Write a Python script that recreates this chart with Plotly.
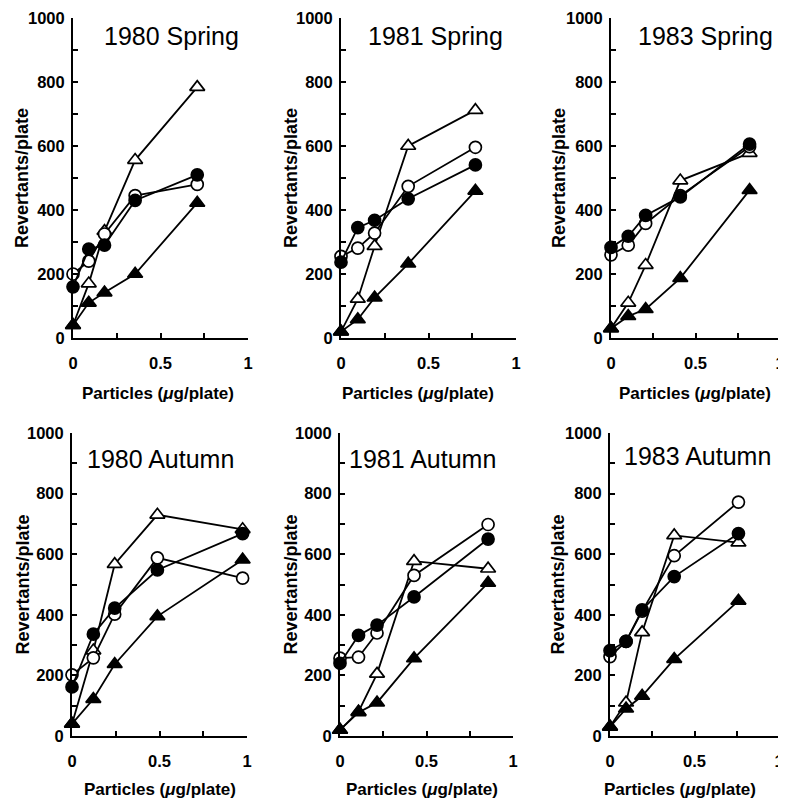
import plotly.graph_objects as go

# The page body adds an 8px margin; lay out in window pixels and compensate.
OFF = 8
WIN_W, WIN_H = 786, 807
W, H = WIN_W - OFF, WIN_H - OFF

panel_titles = ["1980 Spring", "1981 Spring", "1983 Spring",
                "1980 Autumn", "1981 Autumn", "1983 Autumn"]

# doses (ug/plate) per panel
dose_80s = [0, 0.09, 0.18, 0.355, 0.71]
dose_81s = [0, 0.096, 0.192, 0.384, 0.768]
dose_83s = [0, 0.102, 0.205, 0.41, 0.82]
dose_80a = [0, 0.122, 0.244, 0.488, 0.975]
dose_81a = [0, 0.107, 0.214, 0.428, 0.856]
dose_83a = [0, 0.095, 0.19, 0.38, 0.76]

# revertants/plate: open circle, filled circle, open triangle, filled triangle
oc_80s = [200, 240, 325, 445, 480]
fc_80s = [160, 278, 290, 430, 510]
ot_80s = [40, 170, 334, 556, 784]
ft_80s = [40, 110, 142, 200, 422]

oc_81s = [255, 281, 328, 474, 596]
fc_81s = [237, 345, 368, 435, 541]
ot_81s = [20, 122, 287, 600, 712]
ft_81s = [20, 58, 126, 232, 460]

oc_83s = [260, 290, 358, 445, 598]
fc_83s = [283, 318, 383, 441, 606]
ot_83s = [30, 110, 228, 492, 578]
ft_83s = [30, 68, 90, 187, 462]

oc_80a = [202, 258, 402, 588, 521]
fc_80a = [162, 336, 422, 548, 668]
ot_80a = [40, 282, 567, 730, 682]
ft_80a = [40, 122, 237, 395, 582]

oc_81a = [257, 260, 340, 530, 698]
fc_81a = [240, 332, 366, 459, 650]
ot_81a = [20, 80, 205, 577, 552]
ft_81a = [20, 78, 110, 256, 505]

oc_83a = [262, 312, 412, 595, 772]
fc_83a = [282, 312, 416, 526, 668]
ot_83a = [31, 110, 342, 662, 638]
ft_83a = [30, 90, 132, 254, 446]

panels = [
    (dose_80s, oc_80s, fc_80s, ot_80s, ft_80s),
    (dose_81s, oc_81s, fc_81s, ot_81s, ft_81s),
    (dose_83s, oc_83s, fc_83s, ot_83s, ft_83s),
    (dose_80a, oc_80a, fc_80a, ot_80a, ft_80a),
    (dose_81a, oc_81a, fc_81a, ot_81a, ft_81a),
    (dose_83a, oc_83a, fc_83a, ot_83a, ft_83a),
]

y_ticks = [0, 200, 400, 600, 800, 1000]
x_ticks = [0, 0.5, 1]
x_ticktext = ["0", "0.5", "1"]

# window-pixel boxes of plot areas: (x0, x1, ybottom, ytop)
boxes = [
    (73, 248, 338, 18), (341, 516, 338, 18), (611, 780, 338, 18),
    (72, 247, 736, 433), (340, 513, 736, 433), (610, 779, 736, 433),
]
ytitle_x = [22, 291, 559, 22, 290, 557]
title_right = [241, 505, 775, 236, 498, 773]
title_y = [36, 36, 36, 459, 459, 456]
xtitle_cx = [158, 418, 695, 160, 422, 680]
xtitle_y = [393, 393, 393, 789, 789, 789]


def fx(px):
    return (px - OFF) / W


def fy(py):
    return 1 - (py - OFF) / H


FONT = "Liberation Sans, Arial, Helvetica, sans-serif"
fig = go.Figure()
annotations = []

for i, (box, data) in enumerate(zip(boxes, panels)):
    x0, x1, yb, yt = box
    n = i + 1
    xa = "x" if n == 1 else f"x{n}"
    ya = "y" if n == 1 else f"y{n}"
    dose, oc, fc, ot, ft = data
    series = [
        (ot, "triangle-up", "white", 13),
        (oc, "circle", "white", 12),
        (ft, "triangle-up", "black", 13),
        (fc, "circle", "black", 12),
    ]
    for vals, sym, fillc, sz in series:
        fig.add_trace(go.Scatter(
            x=dose, y=vals, xaxis=xa, yaxis=ya, mode="lines+markers",
            line=dict(color="black", width=1.8),
            marker=dict(symbol=sym, size=sz, color=fillc,
                        line=dict(color="black", width=1.7)),
            cliponaxis=False, showlegend=False, hoverinfo="skip"))
    xdom = [fx(x0), fx(x1)]
    ydom = [fy(yb), fy(yt)]
    axcommon = dict(showgrid=False, zeroline=False, showline=True,
                    linecolor="black", linewidth=2, ticks="inside",
                    ticklen=5, tickwidth=1.5, tickcolor="black",
                    automargin=False, ticklabeloverflow="allow",
                    tickfont=dict(family=FONT, size=16.5, color="black",
                                  weight="bold"))
    fig.layout[f"xaxis{'' if n == 1 else n}"] = dict(
        domain=xdom, range=[0, 1], anchor=ya, tickvals=x_ticks,
        ticktext=x_ticktext, ticklabelstandoff=9,
        minor=dict(dtick=0.25, tick0=0, ticks="inside", ticklen=5,
                   tickwidth=1.5, tickcolor="black"),
        **axcommon)
    fig.layout[f"yaxis{'' if n == 1 else n}"] = dict(
        domain=ydom, range=[0, 1000], anchor=xa, tickvals=y_ticks,
        ticklabelstandoff=3,
        minor=dict(dtick=100, tick0=0, ticks="inside", ticklen=5,
                   tickwidth=1.5, tickcolor="black"),
        **axcommon)
    # panel title
    annotations.append(dict(
        text=panel_titles[i], xref="paper", yref="paper",
        x=fx(title_right[i]), y=fy(title_y[i]),
        xanchor="right", yanchor="middle", showarrow=False,
        font=dict(family=FONT, size=25, color="black")))
    # x-axis title
    annotations.append(dict(
        text="Particles (<i>μ</i>g/plate)", xref="paper", yref="paper",
        x=fx(xtitle_cx[i]), y=fy(xtitle_y[i]),
        xanchor="center", yanchor="middle", showarrow=False,
        font=dict(family=FONT, size=17, color="black", weight="bold")))
    # y-axis title
    annotations.append(dict(
        text="Revertants/plate", xref="paper", yref="paper",
        x=fx(ytitle_x[i]), y=fy((yb + yt) / 2),
        xanchor="center", yanchor="middle", textangle=-90, showarrow=False,
        font=dict(family=FONT, size=18, color="black", weight="bold")))

fig.update_layout(
    width=W, height=H, autosize=False,
    margin=dict(l=0, r=0, t=0, b=0, pad=0),
    paper_bgcolor="white", plot_bgcolor="white",
    annotations=annotations,
)

fig.write_html("out.html")
